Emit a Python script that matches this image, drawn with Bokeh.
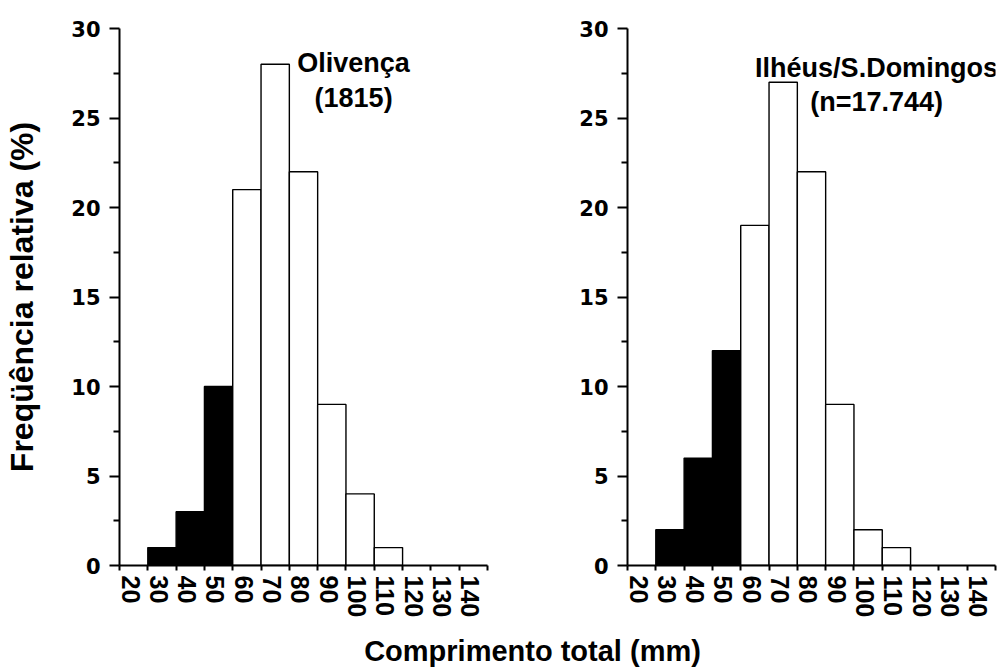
from bokeh.plotting import figure
from bokeh.models import FixedTicker, Range1d, LinearAxis, Label
from bokeh.layouts import column, row
from bokeh.embed import file_html
from bokeh.resources import INLINE

# Length classes (mm): tick marks at class edges, each class labelled by its lower bound
tick_edges = [20, 30, 40, 50, 60, 70, 80, 90, 100, 110, 120, 130, 140, 150]
class_labels = [20, 30, 40, 50, 60, 70, 80, 90, 100, 110, 120, 130, 140]
bin_left = [30, 40, 50, 60, 70, 80, 90, 100, 110]
bin_width = 10

# Relative frequency (%) per class
olivenca = [1, 3, 10, 21, 28, 22, 9, 4, 1]
ilheus = [2, 6, 12, 19, 27, 22, 9, 2, 1]

# Classes below this length are drawn filled
small_limit = 60

y_ticks = [0, 5, 10, 15, 20, 25, 30]
y_minor = [2.5, 7.5, 12.5, 17.5, 22.5, 27.5]

FONT = "Liberation Sans"
TICK_FONT = "DejaVu Sans"
LABEL_SHIFT = 3.9   # class labels sit inside their class, right of the edge tick


def panel(values, width, border_left, border_right, notes, ylabel=None):
    p = figure(width=width, height=620,
               x_range=Range1d(tick_edges[0], tick_edges[-1]),
               y_range=Range1d(y_ticks[0], y_ticks[-1]),
               output_backend="svg", toolbar_location=None,
               min_border_left=border_left, min_border_right=border_right,
               min_border_top=28, min_border_bottom=55)
    p.grid.visible = False
    p.outline_line_color = None
    p.background_fill_color = "white"
    p.border_fill_color = "white"

    rights = [b + bin_width for b in bin_left]
    fills = ["black" if b < small_limit else "white" for b in bin_left]
    p.quad(left=bin_left, right=rights, bottom=0, top=values,
           fill_color=fills, line_color="black", line_width=1.4)

    # y axis
    ya = p.yaxis[0]
    ya.ticker = FixedTicker(ticks=y_ticks, minor_ticks=y_minor)
    ya.axis_line_width = 2
    ya.major_tick_line_width = 2
    ya.minor_tick_line_width = 2
    ya.major_tick_out = 10
    ya.major_tick_in = 0
    ya.minor_tick_out = 6
    ya.minor_tick_in = 0
    ya.major_label_standoff = 9
    ya.major_label_text_font = TICK_FONT
    ya.major_label_text_font_style = "bold"
    ya.major_label_text_font_size = "21px"
    ya.major_label_text_color = "black"
    if ylabel:
        ya.axis_label = ylabel
        ya.axis_label_text_font = FONT
        ya.axis_label_text_font_style = "bold"
        ya.axis_label_text_font_size = "32px"
        ya.axis_label_text_color = "black"
        ya.axis_label_standoff = 28

    # x axis: line and tick marks at the class edges
    xa = p.xaxis[0]
    xa.ticker = FixedTicker(ticks=tick_edges, minor_ticks=[])
    xa.axis_line_width = 2
    xa.major_tick_line_width = 2
    xa.major_tick_out = 5
    xa.major_tick_in = 0
    xa.minor_tick_out = 0
    xa.major_label_text_color = None
    xa.major_label_standoff = 0

    # x axis: rotated class labels inside each class
    p.extra_x_ranges = {"labels": Range1d(tick_edges[0] - LABEL_SHIFT,
                                          tick_edges[-1] - LABEL_SHIFT)}
    lab = LinearAxis(x_range_name="labels",
                     ticker=FixedTicker(ticks=class_labels, minor_ticks=[]),
                     axis_line_color=None,
                     major_tick_out=0, major_tick_in=0,
                     minor_tick_out=0, minor_tick_in=0,
                     major_label_orientation="vertical",
                     major_label_standoff=5,
                     major_label_text_font=FONT,
                     major_label_text_font_style="bold",
                     major_label_text_font_size="25px",
                     major_label_text_color="black")
    p.add_layout(lab, "below")

    for text, x, y in notes:
        p.add_layout(Label(x=x, y=y, text=text, text_align="center",
                           text_baseline="alphabetic", text_font=FONT,
                           text_font_style="bold", text_font_size="27px",
                           text_color="black"))
    return p


left = panel(olivenca, 500, 119, 13,
             [("Olivença", 102.7, 28.1), ("(1815)", 102.7, 26.1)],
             ylabel="Freqüência relativa (%)")
right = panel(ilheus, 505, 127, 10,
              [("Ilhéus/S.Domingos", 108.0, 27.77), ("(n=17.744)", 108.0, 25.9)])

# shared x axis title under both panels
title = figure(width=1005, height=47, x_range=Range1d(0, 1005),
               y_range=Range1d(0, 47), output_backend="svg",
               toolbar_location=None, x_axis_location=None,
               y_axis_location=None, min_border=0)
title.grid.visible = False
title.outline_line_color = None
title.add_layout(Label(x=532, y=17, text="Comprimento total (mm)",
                       text_align="center", text_baseline="alphabetic",
                       text_font=FONT, text_font_style="bold",
                       text_font_size="29px", text_color="black"))

layout = column(row(left, right), title)
open("out.html", "w").write(file_html(layout, INLINE))
